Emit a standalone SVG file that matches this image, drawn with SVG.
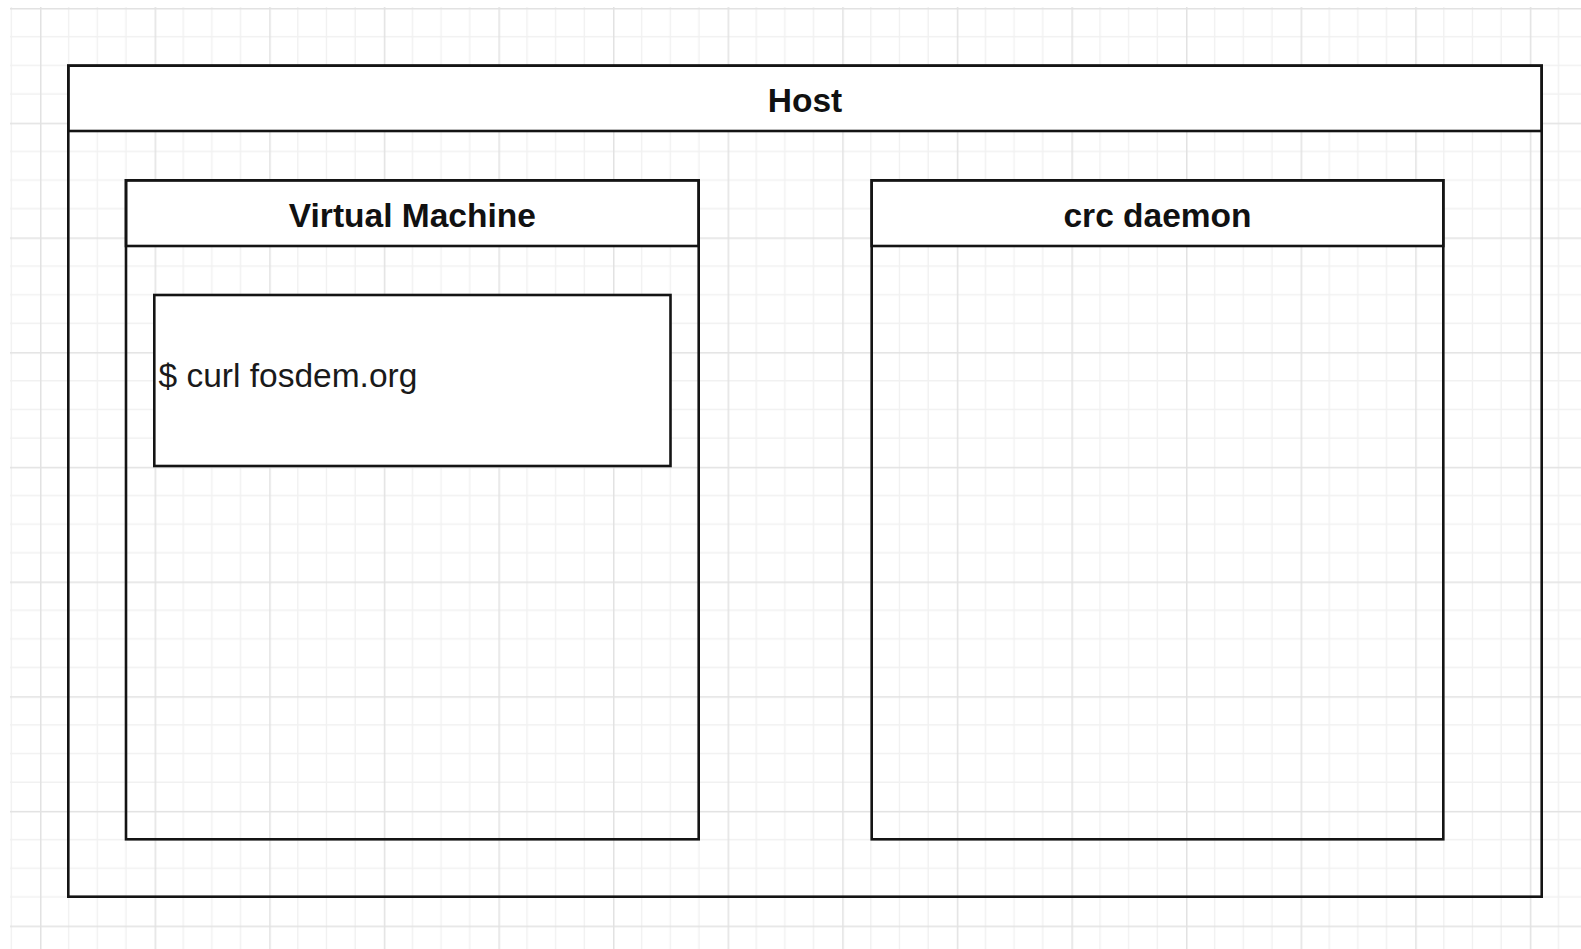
<svg xmlns="http://www.w3.org/2000/svg" width="1581" height="949" viewBox="0 0 1581 949">
  <style>
    .frame { fill: none; stroke: #141414; stroke-width: 2.6; }
    .head { fill: #ffffff; stroke: #141414; stroke-width: 2.6; }
    .box { fill: #ffffff; stroke: #141414; stroke-width: 2.6; }
    .title { font-family: "Liberation Sans", Arial, sans-serif; font-weight: bold; font-size: 33.5px; fill: #111111; text-anchor: middle; }
    .label { font-family: "Liberation Sans", Arial, sans-serif; font-size: 33.5px; fill: #1a1a1a; }
  </style>
  <defs>
    <!-- drawing grid: major lines every 4 minor cells -->
    <pattern id="grid" patternUnits="userSpaceOnUse" x="40" y="8" width="114.6" height="114.7">
      <path d="M28.65 0V114.7M57.3 0V114.7M85.95 0V114.7M0 28.68H114.6M0 57.35H114.6M0 86.03H114.6" stroke="#f1f1f1" stroke-width="1.4" fill="none"/>
      <path d="M0.7 0V114.7M0 0.7H114.6" stroke="#e2e2e2" stroke-width="1.6" fill="none"/>
    </pattern>
  </defs>

  <rect x="0" y="0" width="1581" height="949" fill="#ffffff"/>
  <rect x="10" y="7" width="1571" height="942" fill="url(#grid)"/>

  <!-- Host container -->
  <g id="host">
    <rect class="head" x="68.3" y="65.7" width="1473.4" height="65.3"/>
    <rect class="frame" x="68.3" y="65.7" width="1473.4" height="831"/>
    <text class="title" x="805" y="112">Host</text>
  </g>

  <!-- Virtual Machine container -->
  <g id="virtual-machine">
    <rect class="head" x="126" y="180.3" width="572.7" height="65.7"/>
    <rect class="frame" x="126" y="180.3" width="572.7" height="659"/>
    <text class="title" x="412.3" y="226.5">Virtual Machine</text>
  </g>

  <!-- shell command inside the VM -->
  <g id="curl-command">
    <rect class="box" x="154.3" y="295" width="516.2" height="171"/>
    <text class="label" x="158.5" y="387">$ curl fosdem.org</text>
  </g>

  <!-- crc daemon container -->
  <g id="crc-daemon">
    <rect class="head" x="871.7" y="180.3" width="571.6" height="65.7"/>
    <rect class="frame" x="871.7" y="180.3" width="571.6" height="659"/>
    <text class="title" x="1157.5" y="226.5">crc daemon</text>
  </g>

  <g id="connectors"/>
</svg>
